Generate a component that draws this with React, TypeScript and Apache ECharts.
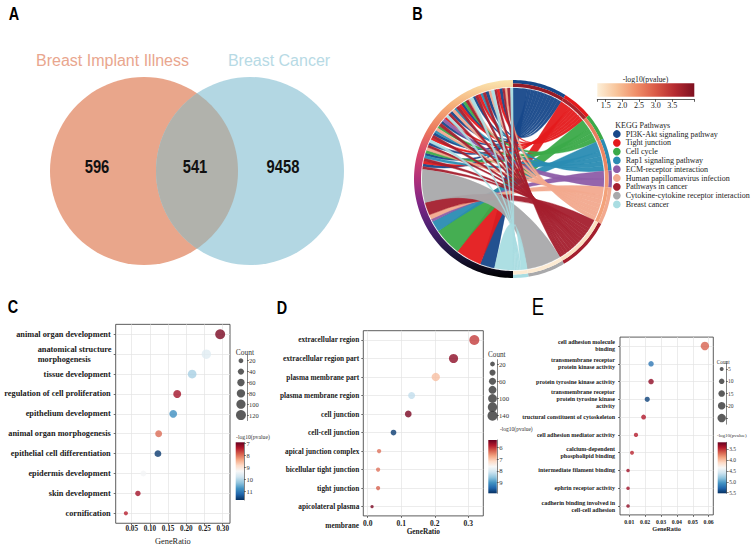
import React, { useEffect, useRef } from 'react';
import * as echarts from 'echarts';

// ---------------- Panel A: Venn ----------------
const vennSets = ['Breast Implant Illness', 'Breast Cancer'];
const vennCounts = [596, 541, 9458]; // only left, shared, only right

// ---------------- Panel B: KEGG chord ----------------
const pathwayNames = [
  'PI3K-Akt signaling pathway',
  'Tight junction',
  'Cell cycle',
  'Rap1 signaling pathway',
  'ECM-receptor interaction',
  'Human papillomavirus infection',
  'Pathways in cancer',
  'Cytokine-cytokine receptor interaction',
  'Breast cancer',
];
const pathwayColors = ['#17488A', '#E41A1C', '#3BAA49', '#2A8CB3', '#8E5DA8', '#F2A98E', '#A41F2E', '#A9A9AB', '#A9DDE2'];
const pathwaySpan = [32, 18, 16, 19, 10, 22, 32, 22, 9];
const pathwayLogP = [3.9, 3.7, 2.6, 2.5, 2.3, 2.2, 1.45, 1.3, 1.3];
const bLogPTicks = [1.5, 2.0, 2.5, 3.0, 3.5];
// links listed in gene order (left half, top -> bottom)
const linkPathway = [
  8, 6, 5, 6, 0, 1, 6, 8, 5, 0,
  6, 3, 1, 6, 0, 8, 5, 6, 2, 0,
  1, 6, 3, 5, 0, 6, 8, 1, 4, 0,
  6, 2, 5, 3, 0, 6, 1, 8, 0, 6,
  5, 2, 0, 3, 6, 1, 0, 6,
  7, 6, 5, 4, 3, 2, 1, 0, 8,
];
const linkGeneWeight = [
  1.4, 1.6, 1.5, 1.2, 1.7, 1.5, 1.3, 1.6, 1.4, 1.8,
  1.5, 1.3, 1.6, 1.5, 1.4, 1.7, 1.2, 1.5, 1.6, 1.4,
  1.5, 1.7, 1.3, 1.5, 1.6, 1.4, 1.5, 1.3, 1.6, 1.5,
  1.7, 1.4, 1.5, 1.3, 1.6, 1.5, 1.4, 1.6, 1.5, 1.3,
  1.7, 1.5, 1.4, 1.6, 1.5, 1.4, 1.6, 1.5,
  18, 7, 2.5, 1.5, 6, 15, 14, 8, 10,
];
const linkPathWeight = [
  1, 1, 1, 1, 1, 1, 1, 1, 1, 1,
  1, 1, 1, 1, 1, 1, 1, 1, 1, 1,
  1, 1, 1, 1, 1, 1, 1, 1, 1, 1,
  1, 1, 1, 1, 1, 1, 1, 1, 1, 1,
  1, 1, 1, 1, 1, 1, 1, 1,
  1, 3, 2, 1, 2, 2, 3, 4, 4,
];

// ---------------- Panel C: GO BP ----------------
const bpTerms = [
  'animal organ development',
  'anatomical structure\nmorphogenesis',
  'tissue development',
  'regulation of cell proliferation',
  'epithelium development',
  'animal organ morphogenesis',
  'epithelial cell differentiation',
  'epidermis development',
  'skin development',
  'cornification',
];
const bpRatio = [0.293, 0.255, 0.216, 0.175, 0.164, 0.124, 0.122, 0.082, 0.067, 0.034];
const bpCount = [120, 105, 88, 72, 67, 51, 50, 34, 28, 14];
const bpLogP = [7.05, 9.6, 10.1, 7.3, 10.8, 7.95, 11.6, 9.35, 7.3, 7.45];
const bpRatioTicks = [0.05, 0.1, 0.15, 0.2, 0.25, 0.3];
const bpCountBreaks = ['20', '40', '60', '80', '100', '120'];
const bpLogPTicks = [7, 8, 9, 10, 11];

// ---------------- Panel D: GO CC ----------------
const ccTerms = [
  'extracellular region',
  'extracellular region part',
  'plasma membrane part',
  'plasma membrane region',
  'cell junction',
  'cell-cell junction',
  'apical junction complex',
  'bicellular tight junction',
  'tight junction',
  'apicolateral plasma\nmembrane',
];
const ccRatio = [0.318, 0.256, 0.203, 0.131, 0.121, 0.077, 0.034, 0.031, 0.031, 0.013];
const ccCount = [140, 112, 89, 58, 53, 34, 15, 14, 14, 6];
const ccLogP = [6.05, 5.6, 6.95, 8.2, 5.5, 9.8, 6.4, 6.4, 6.3, 5.5];
const ccRatioTicks = [0, 0.1, 0.2, 0.3];
const ccCountBreaks = ['20', '40', '60', '80', '100', '120', '140'];
const ccLogPTicks = [6, 7, 8, 9];

// ---------------- Panel E: GO MF ----------------
const mfTerms = [
  'cell adhesion molecule\nbinding',
  'transmembrane receptor\nprotein kinase activity',
  'protein tyrosine kinase activity',
  'transmembrane receptor\nprotein tyrosine kinase\nactivity',
  'tructural constituent of cytoskeleton',
  'cell adhesion mediator activity',
  'calcium-dependent\nphospholipid binding',
  'intermediate filament binding',
  'ephrin receptor activity',
  'cadherin binding involved in\ncell-cell adhesion',
];
const mfRatio = [0.0576, 0.0237, 0.0237, 0.0213, 0.019, 0.0142, 0.0117, 0.0092, 0.0092, 0.0092];
const mfCount = [25, 10, 10, 9, 8, 6, 5, 4, 4, 4];
const mfLogP = [3.65, 5.2, 3.3, 5.45, 3.4, 3.42, 3.45, 3.35, 3.35, 3.3];
const mfRatioTicks = [0.01, 0.02, 0.03, 0.04, 0.05, 0.06];
const mfCountBreaks = ['5', '10', '15', '20', '25'];
const mfLogPTicks = [3.5, 4.0, 4.5, 5.0, 5.5];

// ---------------- styling ----------------
const SERIF = "'Liberation Serif', 'Times New Roman', serif";
const SANS = "'Liberation Sans', Arial, sans-serif";
const GRIDC = '#E4E4E4';
const AX = '#333333';
const TXT = '#1a1a1a';
const RDBU = ['#67001f', '#b2182b', '#d6604d', '#f4a582', '#fddbc7', '#f7f7f7', '#d1e5f0', '#92c5de', '#4393c3', '#2166ac', '#053061'];
const BSCALE = ['#FDEFD8', '#F8C49A', '#F08E68', '#DA5A47', '#B52A30', '#7E1020'];
const GENE_RING = ['#FAE6B0', '#F5B07A', '#EC7A5E', '#D8456A', '#B0307A', '#7E2685', '#4A2070', '#1E1840', '#000000'];

const sizeC = (c: number) => 1.2 + 0.8 * Math.sqrt(c);
const sizeD = (c: number) => 1.6 + 0.71 * Math.sqrt(c);
const sizeE = (c: number) => 0.4 + 1.6 * Math.sqrt(c);

// ---------------- chord layout ----------------
function chordLayout() {
  const leftTotal = linkGeneWeight.reduce((a, b) => a + b, 0);
  const spanTotal = pathwaySpan.reduce((a, b) => a + b, 0);
  const start: number[] = [];
  const end: number[] = [];
  let acc = 0;
  pathwaySpan.forEach((s, p) => {
    start[p] = (acc / spanTotal) * 180;
    acc += s;
    end[p] = (acc / spanTotal) * 180;
  });
  const pTotal = pathwayNames.map((_, p) =>
    linkPathway.reduce((s, q, i) => (q === p ? s + linkPathWeight[i] : s), 0)
  );
  const cursor = pathwayNames.map(() => 0);
  const ribbons: number[][][] = pathwayNames.map(() => []);
  let lacc = 0;
  linkPathway.forEach((p, i) => {
    const b1 = 360 - (lacc / leftTotal) * 180;
    lacc += linkGeneWeight[i];
    const b2 = 360 - (lacc / leftTotal) * 180;
    const span = end[p] - start[p];
    // links of a pathway are stacked from the sector's far end, so they cross into a fan
    const a2 = end[p] - (cursor[p] / pTotal[p]) * span;
    cursor[p] += linkPathWeight[i];
    const a1 = end[p] - (cursor[p] / pTotal[p]) * span;
    ribbons[p].push([0, 0, b1, b2, a1, a2]);
  });
  return { start, end, ribbons };
}

function arcPts(api: any, r: number, from: number, to: number) {
  const n = Math.max(2, Math.ceil(Math.abs(to - from) / 1.5) + 1);
  const pts: number[][] = [];
  for (let k = 0; k < n; k++) {
    const a = from + ((to - from) * k) / (n - 1);
    pts.push(api.coord([r, a]));
  }
  return pts;
}

const R_LINK = 91;
const R_IN = 92;
const R_MID = 95.5;
const R_OUT = 99;

function ribbonItem(params: any, api: any) {
  const b1 = api.value(2), b2 = api.value(3), a1 = api.value(4), a2 = api.value(5);
  const c = api.coord([0, 0]);
  const right = arcPts(api, R_LINK, a1, a2);
  const left = arcPts(api, R_LINK, b2, b1);
  let d = `M${right[0][0]},${right[0][1]}`;
  for (let k = 1; k < right.length; k++) d += `L${right[k][0]},${right[k][1]}`;
  d += `Q${c[0]},${c[1]} ${left[0][0]},${left[0][1]}`;
  for (let k = 1; k < left.length; k++) d += `L${left[k][0]},${left[k][1]}`;
  d += `Q${c[0]},${c[1]} ${right[0][0]},${right[0][1]}Z`;
  const col = api.visual('color');
  return { type: 'path', shape: { pathData: d }, style: { fill: col, stroke: col, lineWidth: 0.4, opacity: 0.95 } };
}

function bandPoly(api: any, r0: number, r1: number, s: number, e: number) {
  return arcPts(api, r1, s, e).concat(arcPts(api, r0, e, s));
}

function ringItem(params: any, api: any) {
  const s = api.value(2), e = api.value(3);
  return {
    type: 'group',
    children: [
      { type: 'polygon', shape: { points: bandPoly(api, R_MID, R_OUT, s, e) }, style: { fill: pathwayColors[params.dataIndex] } },
      { type: 'polygon', shape: { points: bandPoly(api, R_IN, R_MID, s, e) }, style: { fill: api.visual('color') } },
    ],
  };
}

function geneRingItem(params: any, api: any) {
  const s = api.value(2), e = api.value(3);
  return {
    type: 'polygon',
    shape: { points: bandPoly(api, R_IN, R_OUT, s, e) },
    style: {
      fill: new echarts.graphic.LinearGradient(0, 0, 0, 1, GENE_RING.map((c, i) => ({ offset: i / (GENE_RING.length - 1), color: c }))),
    },
  };
}

// ---------------- axes helpers ----------------
const axText = (size: number, weight: any = 'bold') => ({ fontFamily: SERIF, fontWeight: weight, fontSize: size, color: TXT });

function mainX(gridIndex: number, min: number, max: number, ticks: number[], digits: number, labelSize: number, labelMargin: number, nameSize: number, nameWeight: any, nameGap: number) {
  return {
    type: 'value', gridIndex, min, max,
    axisLine: { show: false, onZero: false },
    axisTick: { show: true, length: 2, customValues: ticks, lineStyle: { color: AX, width: 0.7 } },
    axisLabel: { customValues: ticks, formatter: (v: number) => Number(v).toFixed(digits), margin: labelMargin, ...axText(labelSize) },
    splitLine: { show: true, lineStyle: { color: GRIDC, width: 0.7 } },
    name: 'GeneRatio', nameLocation: 'middle', nameGap,
    nameTextStyle: { fontFamily: SERIF, fontSize: nameSize, fontWeight: nameWeight, color: TXT },
  };
}

function mainY(gridIndex: number, labels: string[], labelSize: number, lineHeight: number, margin: number, formatter: (l: string) => string, rich?: any) {
  const idx = labels.map((_, i) => i);
  return {
    type: 'value', gridIndex, min: -0.5, max: labels.length - 0.5, inverse: true,
    axisLine: { show: false, onZero: false },
    axisTick: { show: true, length: 2, customValues: idx, lineStyle: { color: AX, width: 0.7 } },
    axisLabel: {
      customValues: idx, showMinLabel: true, showMaxLabel: true,
      formatter: (v: number) => formatter(labels[Math.round(v)] ?? ''),
      margin, lineHeight, ...axText(labelSize), rich,
    },
    splitLine: { show: true, lineStyle: { color: GRIDC, width: 0.7 } },
  };
}

function hiddenValue(gridIndex: number, min = 0, max = 1) {
  return { type: 'value', gridIndex, min, max, show: false, splitLine: { show: false }, axisLine: { onZero: false } };
}

function sizeLegendY(gridIndex: number, cats: string[], fontSize: number, hide?: string) {
  return {
    type: 'category', gridIndex, data: cats, inverse: true, position: 'right',
    axisLine: { show: true, onZero: false, lineStyle: { color: AX, width: 0.6 } },
    axisTick: { show: true, length: 2, alignWithLabel: true, lineStyle: { color: AX, width: 0.6 } },
    axisLabel: { fontFamily: SERIF, fontSize, color: AX, margin: 2, formatter: (v: string) => (v === hide ? '' : v) },
    splitLine: { show: false },
  };
}

function cbarY(gridIndex: number, min: number, max: number, ticks: number[], fontSize: number, digits: number) {
  return {
    type: 'value', gridIndex, min, max, inverse: true, position: 'right',
    axisLine: { show: true, onZero: false, lineStyle: { color: AX, width: 0.6 } },
    axisTick: { show: true, length: 2, customValues: ticks, lineStyle: { color: AX, width: 0.6 } },
    axisLabel: { customValues: ticks, fontFamily: SERIF, fontSize, color: AX, margin: 2.5, formatter: (v: number) => Number(v).toFixed(digits) },
    splitLine: { show: false },
  };
}

function vGradient(colors: string[]) {
  return new echarts.graphic.LinearGradient(0, 0, 0, 1, colors.map((c, i) => ({ offset: i / (colors.length - 1), color: c })));
}

function lensPoints(c1: number[], c2: number[], r: number) {
  const d = c2[0] - c1[0];
  const alpha = Math.acos(d / 2 / r);
  const pts: number[][] = [];
  const n = 48;
  for (let k = 0; k <= n; k++) {
    const a = alpha - (2 * alpha * k) / n;
    pts.push([c1[0] + r * Math.cos(a), c1[1] + r * Math.sin(a)]);
  }
  for (let k = 0; k <= n; k++) {
    const a = Math.PI + alpha - (2 * alpha * k) / n;
    pts.push([c2[0] + r * Math.cos(a), c2[1] + r * Math.sin(a)]);
  }
  return pts;
}

const txt = (x: number, y: number, text: string, fontSize: number, opts: any = {}) => ({
  type: 'text', x, y, silent: true,
  scaleX: opts.scaleX || 1,
  style: { text, fontSize, fontFamily: opts.fontFamily || SERIF, fontWeight: opts.fontWeight || 'normal', fill: opts.fill || TXT, align: opts.align || 'left', verticalAlign: 'middle' },
});

function buildOption() {
  const { start, end, ribbons } = chordLayout();
  const C1 = [144, 171], C2 = [250, 171], VR = 94;
  const letter = (x: number, y: number, t: string, size = 18, weight = 'bold') =>
    txt(x, y, t, size, { fontFamily: SANS, fontWeight: weight, align: 'center', fill: '#000', scaleX: 0.8 });
  const ccLast = ccTerms[ccTerms.length - 1].split('\n');

  const graphic: any[] = [
    // Panel letters
    letter(14, 13.5, 'A'),
    letter(417.5, 13.5, 'B'),
    letter(13, 306.5, 'C'),
    letter(282, 307, 'D'),
    letter(538, 306.5, 'E', 23, 'normal'),
    // Venn
    { type: 'circle', silent: true, shape: { cx: C1[0], cy: C1[1], r: VR }, style: { fill: '#E9A68B' } },
    { type: 'circle', silent: true, shape: { cx: C2[0], cy: C2[1], r: VR }, style: { fill: '#B3D7E3' } },
    { type: 'polygon', silent: true, shape: { points: lensPoints(C1, C2, VR) }, style: { fill: '#B1B2AC' } },
    txt(112.5, 60, vennSets[0], 16, { fontFamily: SANS, align: 'center', fill: '#E9A68E' }),
    txt(279, 60, vennSets[1], 16, { fontFamily: SANS, align: 'center', fill: '#B7DAE5' }),
    txt(97, 166, String(vennCounts[0]), 18, { fontFamily: SANS, fontWeight: 'bold', align: 'center', fill: '#111', scaleX: 0.82 }),
    txt(195, 166, String(vennCounts[1]), 18, { fontFamily: SANS, fontWeight: 'bold', align: 'center', fill: '#111', scaleX: 0.82 }),
    txt(283, 166, String(vennCounts[2]), 18, { fontFamily: SANS, fontWeight: 'bold', align: 'center', fill: '#111', scaleX: 0.82 }),
    // Panel B legends
    txt(645.5, 79, '-log10(pvalue)', 7.7, { align: 'center', fill: '#222' }),
    {
      type: 'rect', silent: true, shape: { x: 597.3, y: 83.3, width: 97, height: 13.4 },
      style: { fill: new echarts.graphic.LinearGradient(0, 0, 1, 0, BSCALE.map((c, i) => ({ offset: i / (BSCALE.length - 1), color: c }))) },
    },
    txt(615.3, 125, 'KEGG Pathways', 8, { fill: '#222' }),
    // Panel C legends
    txt(235.7, 352, 'Count', 7.5, { fill: AX }),
    txt(236, 436.7, '-log10(pvalue)', 5.7, { fill: AX }),
    { type: 'rect', silent: true, shape: { x: 235.7, y: 442.3, width: 8.3, height: 57.7 }, style: { fill: vGradient(RDBU) } },
    // Panel D: second line of the last category label, and legends
    txt(359, 525, ccLast[1], 7.3, { fontWeight: 'bold', align: 'right' }),
    txt(488, 355, 'Count', 7.2, { fill: AX }),
    txt(500, 429.3, '-log10(pvalue)', 5.5, { fill: AX }),
    { type: 'rect', silent: true, shape: { x: 488.3, y: 440, width: 8.5, height: 53.3 }, style: { fill: vGradient(RDBU) } },
    // Panel E legends
    txt(716.7, 361.7, 'Count', 5.3, { fill: AX }),
    txt(717, 435.7, '-log10(pvalue)', 5, { fill: AX }),
    { type: 'rect', silent: true, shape: { x: 717.7, y: 442.3, width: 9, height: 51 }, style: { fill: vGradient(RDBU) } },
  ];

  const border = { show: true, borderColor: AX, borderWidth: 0.8, backgroundColor: 'transparent' };
  const grid = [
    { left: 115.7, top: 324.35, width: 114.3, height: 198.9, ...border },
    { left: 363.3, top: 330.7, width: 120, height: 185.2, ...border },
    { left: 620, top: 337.1, width: 93.3, height: 177.8, ...border },
    { left: 236, top: 355.3, width: 11, height: 65.2 },
    { left: 488, top: 359.7, width: 9, height: 60.3 },
    { left: 717, top: 362.9, width: 9, height: 61.25 },
    { left: 235.7, top: 442.3, width: 8.3, height: 57.7 },
    { left: 488.3, top: 440, width: 8.5, height: 53.3 },
    { left: 717.7, top: 442.3, width: 9, height: 51 },
    { left: 597.3, top: 83.3, width: 97, height: 16 },
  ];

  const cRich = {
    l: { width: 73, align: 'left', fontFamily: SERIF, fontWeight: 'bold', fontSize: 8.3, color: TXT, lineHeight: 10 },
  };

  const xAxis: any[] = [
    mainX(0, 0.006, 0.32, bpRatioTicks, 2, 7.2, 2, 8.3, 'normal', 14),
    mainX(1, -0.0131, 0.3448, ccRatioTicks, 1, 7.5, 3.5, 7.3, 'bold', 10.4),
    mainX(2, 0.00414, 0.0629, mfRatioTicks, 2, 5.8, 3.8, 6.3, 'bold', 10.2),
    hiddenValue(3), hiddenValue(4), hiddenValue(5),
    hiddenValue(6), hiddenValue(7), hiddenValue(8),
    {
      type: 'value', gridIndex: 9, min: 1.25, max: 4.16, position: 'bottom',
      axisLine: { show: true, onZero: false, lineStyle: { color: AX, width: 0.8 } },
      axisTick: { show: true, length: 2.5, customValues: [1.25, ...bLogPTicks, 4.16], lineStyle: { color: AX, width: 0.8 } },
      axisLabel: { customValues: bLogPTicks, formatter: (v: number) => Number(v).toFixed(1), fontFamily: SERIF, fontSize: 8, color: '#222', margin: 2 },
      splitLine: { show: false },
    },
  ];

  const yAxis: any[] = [
    mainY(0, bpTerms, 8.3, 10, 5, (l) => (l.includes('\n') ? l.split('\n').map((s) => `{l|${s}}`).join('\n') : l), cRich),
    mainY(1, ccTerms, 7.3, 9, 4, (l) => l.split('\n')[0]),
    mainY(2, mfTerms, 6, 7, 5, (l) => l),
    sizeLegendY(3, bpCountBreaks, 6.5),
    sizeLegendY(4, ccCountBreaks, 6.7),
    sizeLegendY(5, mfCountBreaks, 5.5, '25'),
    cbarY(6, 6.92, 11.7, bpLogPTicks, 6.5, 0),
    cbarY(7, 5.38, 9.9, ccLogPTicks, 6.7, 0),
    cbarY(8, 3.17, 5.53, mfLogPTicks, 5.5, 1),
    hiddenValue(9),
  ];

  const series: any[] = [
    {
      type: 'scatter', xAxisIndex: 0, yAxisIndex: 0, silent: true,
      data: bpTerms.map((_, i) => [bpRatio[i], i, bpLogP[i], bpCount[i]]),
      symbolSize: (v: number[]) => sizeC(v[3]),
    },
    {
      type: 'scatter', xAxisIndex: 1, yAxisIndex: 1, silent: true,
      data: ccTerms.map((_, i) => [ccRatio[i], i, ccLogP[i], ccCount[i]]),
      symbolSize: (v: number[]) => sizeD(v[3]),
    },
    {
      type: 'scatter', xAxisIndex: 2, yAxisIndex: 2, silent: true,
      data: mfTerms.map((_, i) => [mfRatio[i], i, mfLogP[i], mfCount[i]]),
      symbolSize: (v: number[]) => sizeE(v[3]),
    },
    {
      type: 'scatter', xAxisIndex: 3, yAxisIndex: 3, silent: true, itemStyle: { color: '#333' },
      data: bpCountBreaks.map((c) => [0.45, c, Number(c)]),
      symbolSize: (v: any[]) => sizeC(v[2]),
    },
    {
      type: 'scatter', xAxisIndex: 4, yAxisIndex: 4, silent: true, itemStyle: { color: '#333' },
      data: ccCountBreaks.map((c) => [0.5, c, Number(c)]),
      symbolSize: (v: any[]) => sizeD(v[2]),
    },
    {
      type: 'scatter', xAxisIndex: 5, yAxisIndex: 5, silent: true, itemStyle: { color: '#333' },
      data: mfCountBreaks.map((c) => [0.52, c, Number(c)]),
      symbolSize: (v: any[]) => sizeE(v[2]),
    },
    ...pathwayNames.map((name, p) => ({
      type: 'custom', name, coordinateSystem: 'polar', polarIndex: 0, silent: true,
      itemStyle: { color: pathwayColors[p] },
      data: ribbons[p],
      renderItem: ribbonItem,
    })),
    {
      type: 'custom', name: 'pathway ring', coordinateSystem: 'polar', polarIndex: 0, silent: true,
      data: pathwayNames.map((_, p) => [0, 0, start[p], end[p], pathwayLogP[p]]),
      renderItem: ringItem,
    },
    {
      type: 'custom', name: 'gene ring', coordinateSystem: 'polar', polarIndex: 0, silent: true,
      data: [[0, 0, 180, 360]],
      renderItem: geneRingItem,
    },
  ];

  return {
    animation: false,
    backgroundColor: '#ffffff',
    graphic,
    grid,
    xAxis,
    yAxis,
    polar: { center: [513, 179], radius: R_OUT },
    angleAxis: { type: 'value', min: 0, max: 360, startAngle: 90, clockwise: true, show: false, splitLine: { show: false }, axisLine: { show: false } },
    radiusAxis: { type: 'value', min: 0, max: R_OUT, show: false, splitLine: { show: false }, axisLine: { show: false } },
    legend: {
      data: pathwayNames, orient: 'vertical', left: 613, top: 130, padding: 0, icon: 'circle',
      itemWidth: 7.7, itemHeight: 7.7, itemGap: 0.8, selectedMode: false,
      textStyle: { fontFamily: SERIF, fontSize: 8, color: '#222', lineHeight: 8 },
    },
    visualMap: [
      { type: 'continuous', show: false, seriesIndex: 0, dimension: 2, min: 6.92, max: 11.7, inRange: { color: RDBU } },
      { type: 'continuous', show: false, seriesIndex: 1, dimension: 2, min: 5.38, max: 9.9, inRange: { color: RDBU } },
      { type: 'continuous', show: false, seriesIndex: 2, dimension: 2, min: 3.17, max: 5.53, inRange: { color: RDBU } },
      { type: 'continuous', show: false, seriesIndex: 15, dimension: 4, min: 1.25, max: 4.16, inRange: { color: BSCALE } },
    ],
    series,
  };
}

export default function App() {
  const ref = useRef<HTMLDivElement>(null);
  useEffect(() => {
    const chart = echarts.init(ref.current!, null, { renderer: 'svg' });
    chart.setOption(buildOption() as any);
    return () => chart.dispose();
  }, []);
  return (
    <div
      ref={ref}
      style={{ position: 'absolute', left: 0, top: 0, width: 753, height: 548, background: '#fff' }}
    />
  );
}
